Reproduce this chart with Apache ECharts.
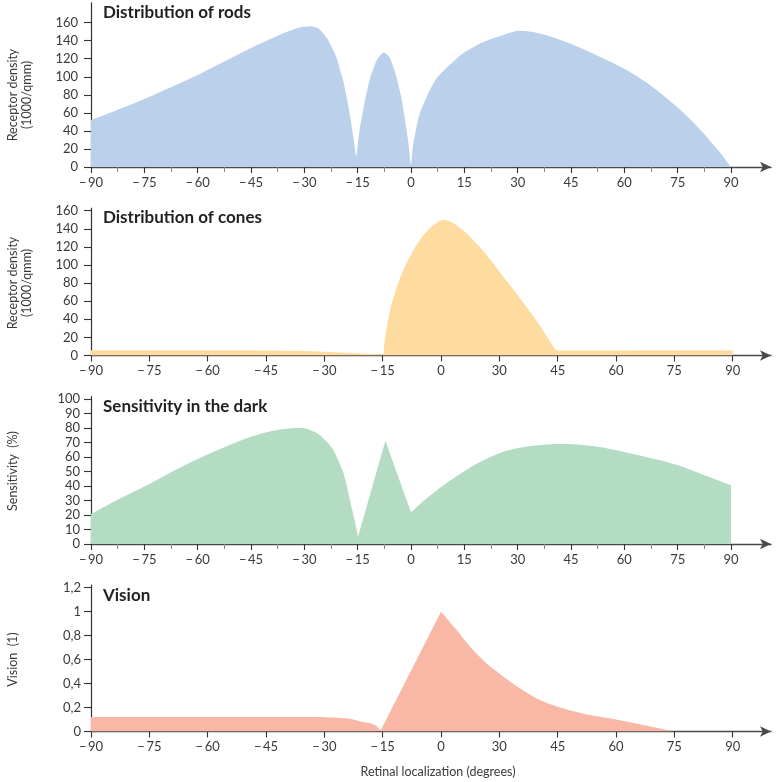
<!DOCTYPE html>
<html><head><meta charset="utf-8">
<script src="https://cdn.jsdelivr.net/npm/echarts@6/dist/echarts.min.js"></script>
<style>html,body{margin:0;padding:0;background:#fff}#c{width:779px;height:782px}</style>
</head><body><div id="c"></div>
<script>
// ---- tick labels ----
const degTicksUniform = [-90,-75,-60,-45,-30,-15,0,15,30,45,60,75,90];
const degMinorUniform = [-82.5,-67.5,-52.5,-37.5,-22.5,-7.5,7.5,22.5,37.5,52.5,67.5,82.5];
const degTicksWarped = [-90,-75,-60,-45,-30,-15,0,30,45,60,75,90];
const densityTicks = [0,20,40,60,80,100,120,140,160];
const sensitivityTicks = [0,10,20,30,40,50,60,70,80,90,100];
const visionTicks = [0,0.2,0.4,0.6,0.8,1,1.2];

// ---- series values: [retinal localization (deg), value] ----
const rodsDensity = [[-90,52],[-82.5,63.5],[-75,75.5],[-67.5,88.5],[-60,102],[-52.5,117],[-45,132],[-40,141],[-37.5,145.5],[-35,149.5],[-32,154],[-30,155.5],[-28.5,156],[-27,155],[-26,153.6],[-24.7,148],[-23.5,142],[-22.8,137],[-21.8,129],[-20.9,120.5],[-20,108],[-19,94.7],[-18.3,81],[-17.6,67],[-17,53],[-16.4,37.7],[-15.9,25],[-15.4,12],[-14.9,28],[-14.3,45],[-13.6,60],[-12.9,74.5],[-12.2,87],[-11.5,98.4],[-10.5,110],[-9.6,118.6],[-8.5,124.5],[-7.6,127],[-6.8,125],[-5.9,120.5],[-5,111],[-4,98.4],[-3.3,87],[-2.6,74.5],[-2,60],[-1.4,45],[-0.7,26],[0,3],[0.5,22],[1.2,37.7],[2.5,59.8],[4.4,78],[5.8,89],[7.2,98.4],[10,110],[12.5,119],[14.7,126],[19.4,137],[25,145],[30.7,151],[36.3,148],[44.7,137],[52.2,124],[59.7,109.5],[67.2,91],[74.7,67],[78.5,53],[82.2,37.7],[85,25],[87,15.7],[89,5],[90,0]];
const conesDensity = [[-90,5.8],[-60,5.8],[-45,5.6],[-37,5.2],[-30,4.2],[-25,3],[-20,1.8],[-15,1],[-14.6,12],[-14,30],[-13.4,44],[-12.75,56],[-11.7,71],[-10.5,86],[-9.3,98],[-8,109],[-6.3,122],[-4.5,133],[-3,140],[-2,144],[-0.5,148],[1,150],[4,148.5],[8,144],[11.5,138],[15,131],[19,122],[23.5,111],[31,87],[35.25,63.5],[39.6,38],[43,16],[44.8,5.6],[45,5.6],[90,5.8]];
const darkSensitivity = [[-90,20.6],[-82.5,30.5],[-75,39.6],[-67.5,49.5],[-60,58.7],[-52.5,66.8],[-45,74],[-40,77.5],[-37.5,78.7],[-35,79.5],[-32,80],[-30,79.8],[-28.4,78.7],[-26.5,76.5],[-24.7,73],[-23.3,69.5],[-21.9,65],[-20.5,58],[-19,48.9],[-18.1,40.5],[-17.2,30.5],[-16.4,22],[-15.7,14.5],[-14.9,5],[-7.2,71.3],[0,21.8],[2.5,27.5],[5.3,33.2],[10,42],[15,50.2],[19.4,56.5],[25,62.8],[29.7,66],[35,68],[41.9,69],[47,68.7],[52.2,67.2],[59.7,63.7],[67,59.5],[74.7,54.6],[82.2,47.7],[90,40.5]];
const vision = [[-90,0.12],[-60,0.12],[-40,0.12],[-30,0.119],[-27.75,0.117],[-25.5,0.113],[-23.4,0.106],[-20.85,0.086],[-18.3,0.07],[-16.6,0.045],[-16,0.025],[-15.6,0.005],[0,1.0],[8.1,0.846],[15,0.707],[23.4,0.568],[30,0.485],[35.25,0.36],[39.6,0.276],[45,0.206],[52.5,0.142],[60,0.1],[68,0.047],[74,0.005],[75,0]];

// ---- helpers ----
const FONT = 'Lato';
const fmtDeg = v => v < 0 ? '\u2212\u2009' + Math.abs(v) : String(v);
// position on an axis whose labels are evenly spaced (labels as listed)
function toPos(deg, labels) {
  for (let i = 0; i < labels.length - 1; i++) {
    if (deg <= labels[i + 1]) return i + (deg - labels[i]) / (labels[i + 1] - labels[i]);
  }
  return labels.length - 1;
}
const warp = arr => arr.map(d => [toPos(d[0], degTicksWarped), d[1]]);
const idxTicks = degTicksWarped.map((_, i) => i);
// split a series at corner x-values (shared boundary points)
function splitAt(arr, xs) {
  const segs = []; let cur = [];
  arr.forEach(d => { cur.push(d); if (xs.indexOf(d[0]) >= 0) { segs.push(cur); cur = [d]; } });
  if (cur.length > 1) segs.push(cur);
  return segs;
}

const gridDefs = [
  {top: 2.8, height: 164.2},
  {top: 208, height: 147.5},
  {top: 396.7, height: 147.3},
  {top: 585, height: 146.5}
];
const grid = gridDefs.map(g => ({left: 91, width: 680, top: g.top, height: g.height}));
const UMAX = 101.25, WMAX = 11.6571;

const axisLineX = {show: true, onZero: false, lineStyle: {color: '#4a4a4a', width: 1.3}, symbol: ['none', 'arrow'], symbolSize: [8, 11]};
const labelStyle = {color: '#3a3a3a', fontFamily: FONT, fontSize: 13};

function xUniform(gi) {
  return {gridIndex: gi, type: 'value', position: 'bottom', min: -90, max: UMAX,
    axisLine: axisLineX,
    axisTick: {show: true, length: 6, customValues: degTicksUniform, lineStyle: {color: '#333', width: 1.1}},
    axisLabel: Object.assign({customValues: degTicksUniform, formatter: fmtDeg, margin: 9}, labelStyle),
    splitLine: {show: false}};
}
function xMinor(gi) {
  return {gridIndex: gi, type: 'value', position: 'bottom', min: -90, max: UMAX,
    axisLine: {show: false, onZero: false},
    axisTick: {show: true, length: 5, customValues: degMinorUniform, lineStyle: {color: '#888', width: 1}},
    axisLabel: {show: false}, splitLine: {show: false}};
}
function xWarped(gi) {
  return {gridIndex: gi, type: 'value', position: 'bottom', min: 0, max: WMAX,
    axisLine: axisLineX,
    axisTick: {show: true, length: 6, customValues: idxTicks, lineStyle: {color: '#333', width: 1.1}},
    axisLabel: Object.assign({customValues: idxTicks, formatter: i => fmtDeg(degTicksWarped[Math.round(i)]), margin: 9}, labelStyle),
    splitLine: {show: false}};
}
function yAxis(gi, max, ticks, margin, fmt) {
  return {gridIndex: gi, type: 'value', min: 0, max: max, position: 'left',
    axisLine: {show: true, onZero: false, lineStyle: {color: '#333', width: 1.2}},
    axisTick: {show: true, length: 7, customValues: ticks, lineStyle: {color: '#333', width: 1.1}},
    axisLabel: Object.assign({customValues: ticks, margin: margin, formatter: fmt || (v => String(v))}, labelStyle),
    splitLine: {show: false}};
}
function area(xi, yi, data, color, smooth) {
  return {type: 'line', xAxisIndex: xi, yAxisIndex: yi, data: data, showSymbol: false, symbol: 'none',
    smooth: smooth || false,
    lineStyle: {width: 0, opacity: 0}, areaStyle: {color: color, opacity: 1}, silent: true, z: 1};
}
function title(text, y) {
  return {type: 'text', x: 103, y: y, z: 10,
    style: {text: text, fill: '#231f20', font: 'bold 17px ' + FONT, textAlign: 'left', textVerticalAlign: 'middle', align: 'left', verticalAlign: 'middle'}};
}
function yName(text, x, y) {
  return {type: 'text', x: x, y: y, rotation: Math.PI / 2, z: 10,
    style: {text: text, fill: '#3a3a3a', font: '12.5px ' + FONT, lineHeight: 14, textAlign: 'center', textVerticalAlign: 'middle', align: 'center', verticalAlign: 'middle'}};
}

const sensSegs = splitAt(darkSensitivity, [-14.9, 0]);
const visSegs = splitAt(vision, [-15.6, 0]);
const series = [
  area(0, 0, rodsDensity, '#bbd0ea', 0.3),
  area(1, 1, warp(conesDensity), '#fedb9f', 0.3),
  area(2, 2, sensSegs[0], '#b4dcc3', 0.3),
  area(2, 2, sensSegs[1], '#b4dcc3', false),
  area(2, 2, sensSegs[2], '#b4dcc3', 0.3),
  area(3, 3, warp(visSegs[0]), '#f8b8a5', 0.2),
  area(3, 3, warp(visSegs[1]), '#f8b8a5', false),
  area(3, 3, warp(visSegs[2]), '#f8b8a5', 0.3)
];

const option = {
  animation: false,
  backgroundColor: '#ffffff',
  grid: grid,
  xAxis: [xUniform(0), xWarped(1), xUniform(2), xWarped(3), xMinor(0), xMinor(2)],
  yAxis: [
    yAxis(0, 182, densityTicks, 13),
    yAxis(1, 163, densityTicks, 13),
    yAxis(2, 101.6, sensitivityTicks, 11),
    yAxis(3, 1.2225, visionTicks, 10, v => String(v).replace('.', ','))
  ],
  series: series,
  graphic: [
    title('Distribution of rods', 12.2),
    title('Distribution of cones', 217.5),
    title('Sensitivity in the dark', 407),
    title('Vision', 595.3),
    yName('Receptor density\n(1000/qmm)', 19.7, 95),
    yName('Receptor density\n(1000/qmm)', 19.7, 283),
    yName('Sensitivity  (%)', 12.7, 471),
    yName('Vision  (1)', 12.7, 659.5),
    {type: 'text', x: 438, y: 772, z: 10,
     style: {text: 'Retinal localization (degrees)', fill: '#3a3a3a', font: '12.5px ' + FONT, textAlign: 'center', textVerticalAlign: 'middle', align: 'center', verticalAlign: 'middle'}}
  ]
};
const chart = echarts.init(document.getElementById('c'), null, {renderer: 'canvas'});
chart.setOption(option);
</script>
</body></html>
